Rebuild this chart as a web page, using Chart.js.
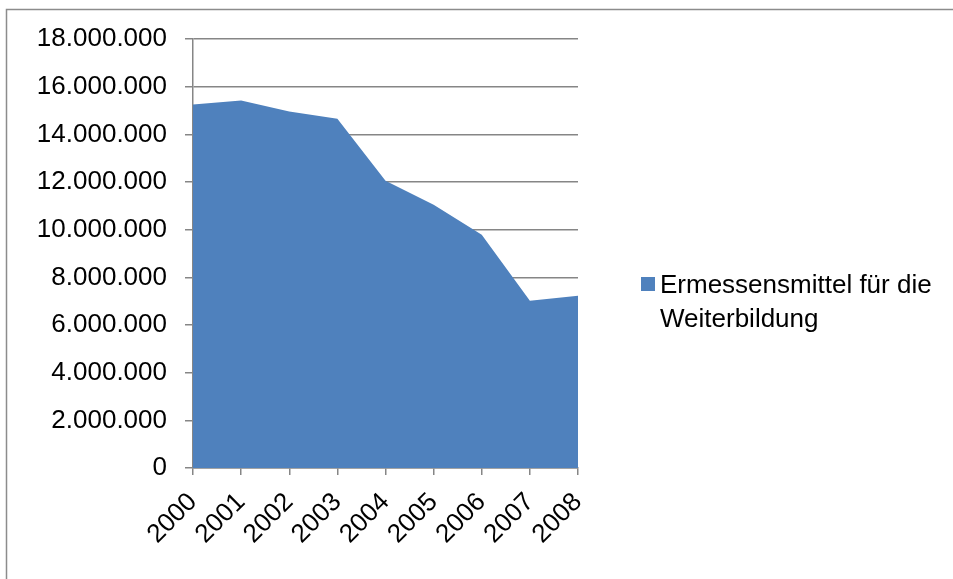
<!DOCTYPE html>
<html lang="de">
<head>
<meta charset="UTF-8">
<title>Ermessensmittel für die Weiterbildung</title>
<script src="https://cdn.jsdelivr.net/npm/chart.js"></script>
<style>
    body {
        margin: 0;
        padding: 0;
        background-color: #ffffff;
    }
    .chart-box {
        position: relative;
        width: 953px;
        height: 579px;
    }
</style>
</head>
<body>
<div class="chart-box">
    <canvas id="areaChart"></canvas>
</div>
<script>
    // Jahre und Beträge
    const years = ['2000', '2001', '2002', '2003', '2004', '2005', '2006', '2007', '2008'];
    const amounts = [15250000, 15420000, 14960000, 14650000, 12050000, 11050000, 9790000, 7020000, 7230000];
    const seriesName = 'Ermessensmittel für die Weiterbildung';
    const legendLines = ['Ermessensmittel für die', 'Weiterbildung'];

    const fontFamily = "'Liberation Sans', Arial, sans-serif";
    const gridColor = '#868686';
    const fillColor = '#4f81bd';

    // 18000000 -> "18.000.000"
    function formatNumber(v) {
        return String(v).replace(/\B(?=(\d{3})+(?!\d))/g, '.');
    }

    // Rahmen um das ganze Diagramm
    const frame = {
        id: 'frame',
        beforeDraw(chart) {
            const ctx = chart.ctx;
            ctx.save();
            ctx.strokeStyle = '#8c8c8c';
            ctx.lineWidth = 1.5;
            ctx.strokeRect(6.5, 9.5, 1200, 1200);
            ctx.restore();
        }
    };

    // Legende rechts, zweizeilig
    const sideLegend = {
        id: 'sideLegend',
        afterDraw(chart) {
            const ctx = chart.ctx;
            const area = chart.chartArea;
            const x = area.right + 63;
            const y = area.top + 238;
            ctx.save();
            ctx.fillStyle = chart.data.datasets[0].backgroundColor;
            ctx.fillRect(x, y, 14, 14);
            ctx.fillStyle = '#000000';
            ctx.font = '26px ' + fontFamily;
            ctx.textBaseline = 'alphabetic';
            ctx.textAlign = 'left';
            legendLines.forEach((line, i) => {
                ctx.fillText(line, x + 19, y + 16 + i * 34);
            });
            ctx.restore();
        }
    };

    const ctx = document.getElementById('areaChart').getContext('2d');
    const areaChart = new Chart(ctx, {
        type: 'line',
        data: {
            labels: years,
            datasets: [{
                label: seriesName,
                data: amounts,
                fill: 'origin',
                backgroundColor: fillColor,
                borderColor: fillColor,
                borderWidth: 0,
                pointRadius: 0,
                tension: 0
            }]
        },
        options: {
            responsive: true,
            maintainAspectRatio: false,
            animation: false,
            layout: {
                padding: { left: 0, right: 375, top: 39, bottom: 0 }
            },
            plugins: {
                legend: { display: false },
                tooltip: { enabled: false }
            },
            scales: {
                x: {
                    offset: false,
                    grid: {
                        drawOnChartArea: false,
                        drawTicks: true,
                        tickLength: 7,
                        color: gridColor,
                        lineWidth: 1.5
                    },
                    border: { color: gridColor, width: 1.5 },
                    ticks: {
                        autoSkip: false,
                        maxRotation: 45,
                        minRotation: 45,
                        padding: 12,
                        color: '#000000',
                        font: { family: fontFamily, size: 26 }
                    },
                    afterFit(scale) {
                        scale.height = 111;
                    }
                },
                y: {
                    min: 0,
                    max: 18000000,
                    ticks: {
                        stepSize: 2000000,
                        padding: 18,
                        color: '#000000',
                        font: { family: fontFamily, size: 26 },
                        callback: (v) => formatNumber(v)
                    },
                    grid: {
                        color: gridColor,
                        lineWidth: 1.5,
                        tickLength: 8
                    },
                    border: { color: gridColor, width: 1.5 },
                    afterFit(scale) {
                        scale.width = 193;
                    }
                }
            }
        },
        plugins: [frame, sideLegend]
    });
</script>
</body>
</html>
